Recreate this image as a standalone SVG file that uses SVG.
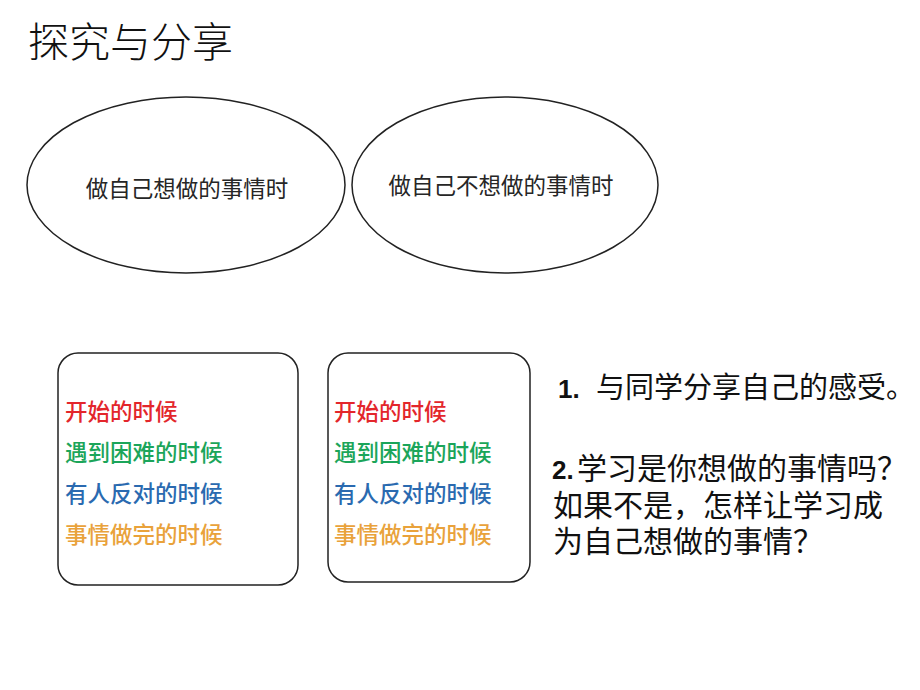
<svg xmlns="http://www.w3.org/2000/svg" width="920" height="690" viewBox="0 0 920 690">
<style>
.cjk{font-family:"Noto Sans CJK SC","Noto Sans",sans-serif}
.shape{fill:#fff;stroke:#222;stroke-width:1.5}
.oval-t{font-size:22.5px;fill:#262626;text-anchor:middle}
.box-t{font-size:22.5px;font-weight:500}
.red{fill:#E3262B}.green{fill:#1BA55A}.blue{fill:#2A6AB0}.orange{fill:#E9A23B}
.q{font-size:30px;fill:#111}
.q1{font-size:29px}
.num{font-family:"Liberation Sans",sans-serif;font-weight:bold;font-size:26px}
</style>
<rect width="920" height="690" fill="#fff"/>
<text class="cjk" x="28" y="57" font-size="41" font-weight="300" fill="#111">探究与分享</text>
<g id="oval-want">
<ellipse class="shape" cx="186" cy="185" rx="159" ry="88"/>
<text class="cjk oval-t" x="187" y="197">做自己想做的事情时</text>
</g>
<g id="oval-notwant">
<ellipse class="shape" cx="505" cy="185" rx="153" ry="88"/>
<text class="cjk oval-t" x="501" y="194">做自己不想做的事情时</text>
</g>
<g id="box-left">
<rect class="shape" x="58" y="353" width="240" height="232" rx="20"/>
<text class="cjk box-t red" x="65" y="420">开始的时候</text>
<text class="cjk box-t green" x="65" y="461">遇到困难的时候</text>
<text class="cjk box-t blue" x="65" y="502">有人反对的时候</text>
<text class="cjk box-t orange" x="65" y="543">事情做完的时候</text>
</g>
<g id="box-right">
<rect class="shape" x="328" y="353" width="202" height="229" rx="20"/>
<text class="cjk box-t red" x="334" y="420">开始的时候</text>
<text class="cjk box-t green" x="334" y="461">遇到困难的时候</text>
<text class="cjk box-t blue" x="334" y="502">有人反对的时候</text>
<text class="cjk box-t orange" x="334" y="543">事情做完的时候</text>
</g>
<g id="questions">
<text class="cjk q q1" y="398"><tspan class="num" x="558">1.</tspan><tspan x="596">与同学分享自己的感受。</tspan></text>
<text class="cjk q" y="479"><tspan class="num" x="552">2.</tspan><tspan x="577">学习是你想做的事情吗？</tspan></text>
<text class="cjk q" x="553" y="516">如果不是，怎样让学习成</text>
<text class="cjk q" x="553" y="552">为自己想做的事情？</text>
</g>
<g id="connectors"></g>
</svg>
